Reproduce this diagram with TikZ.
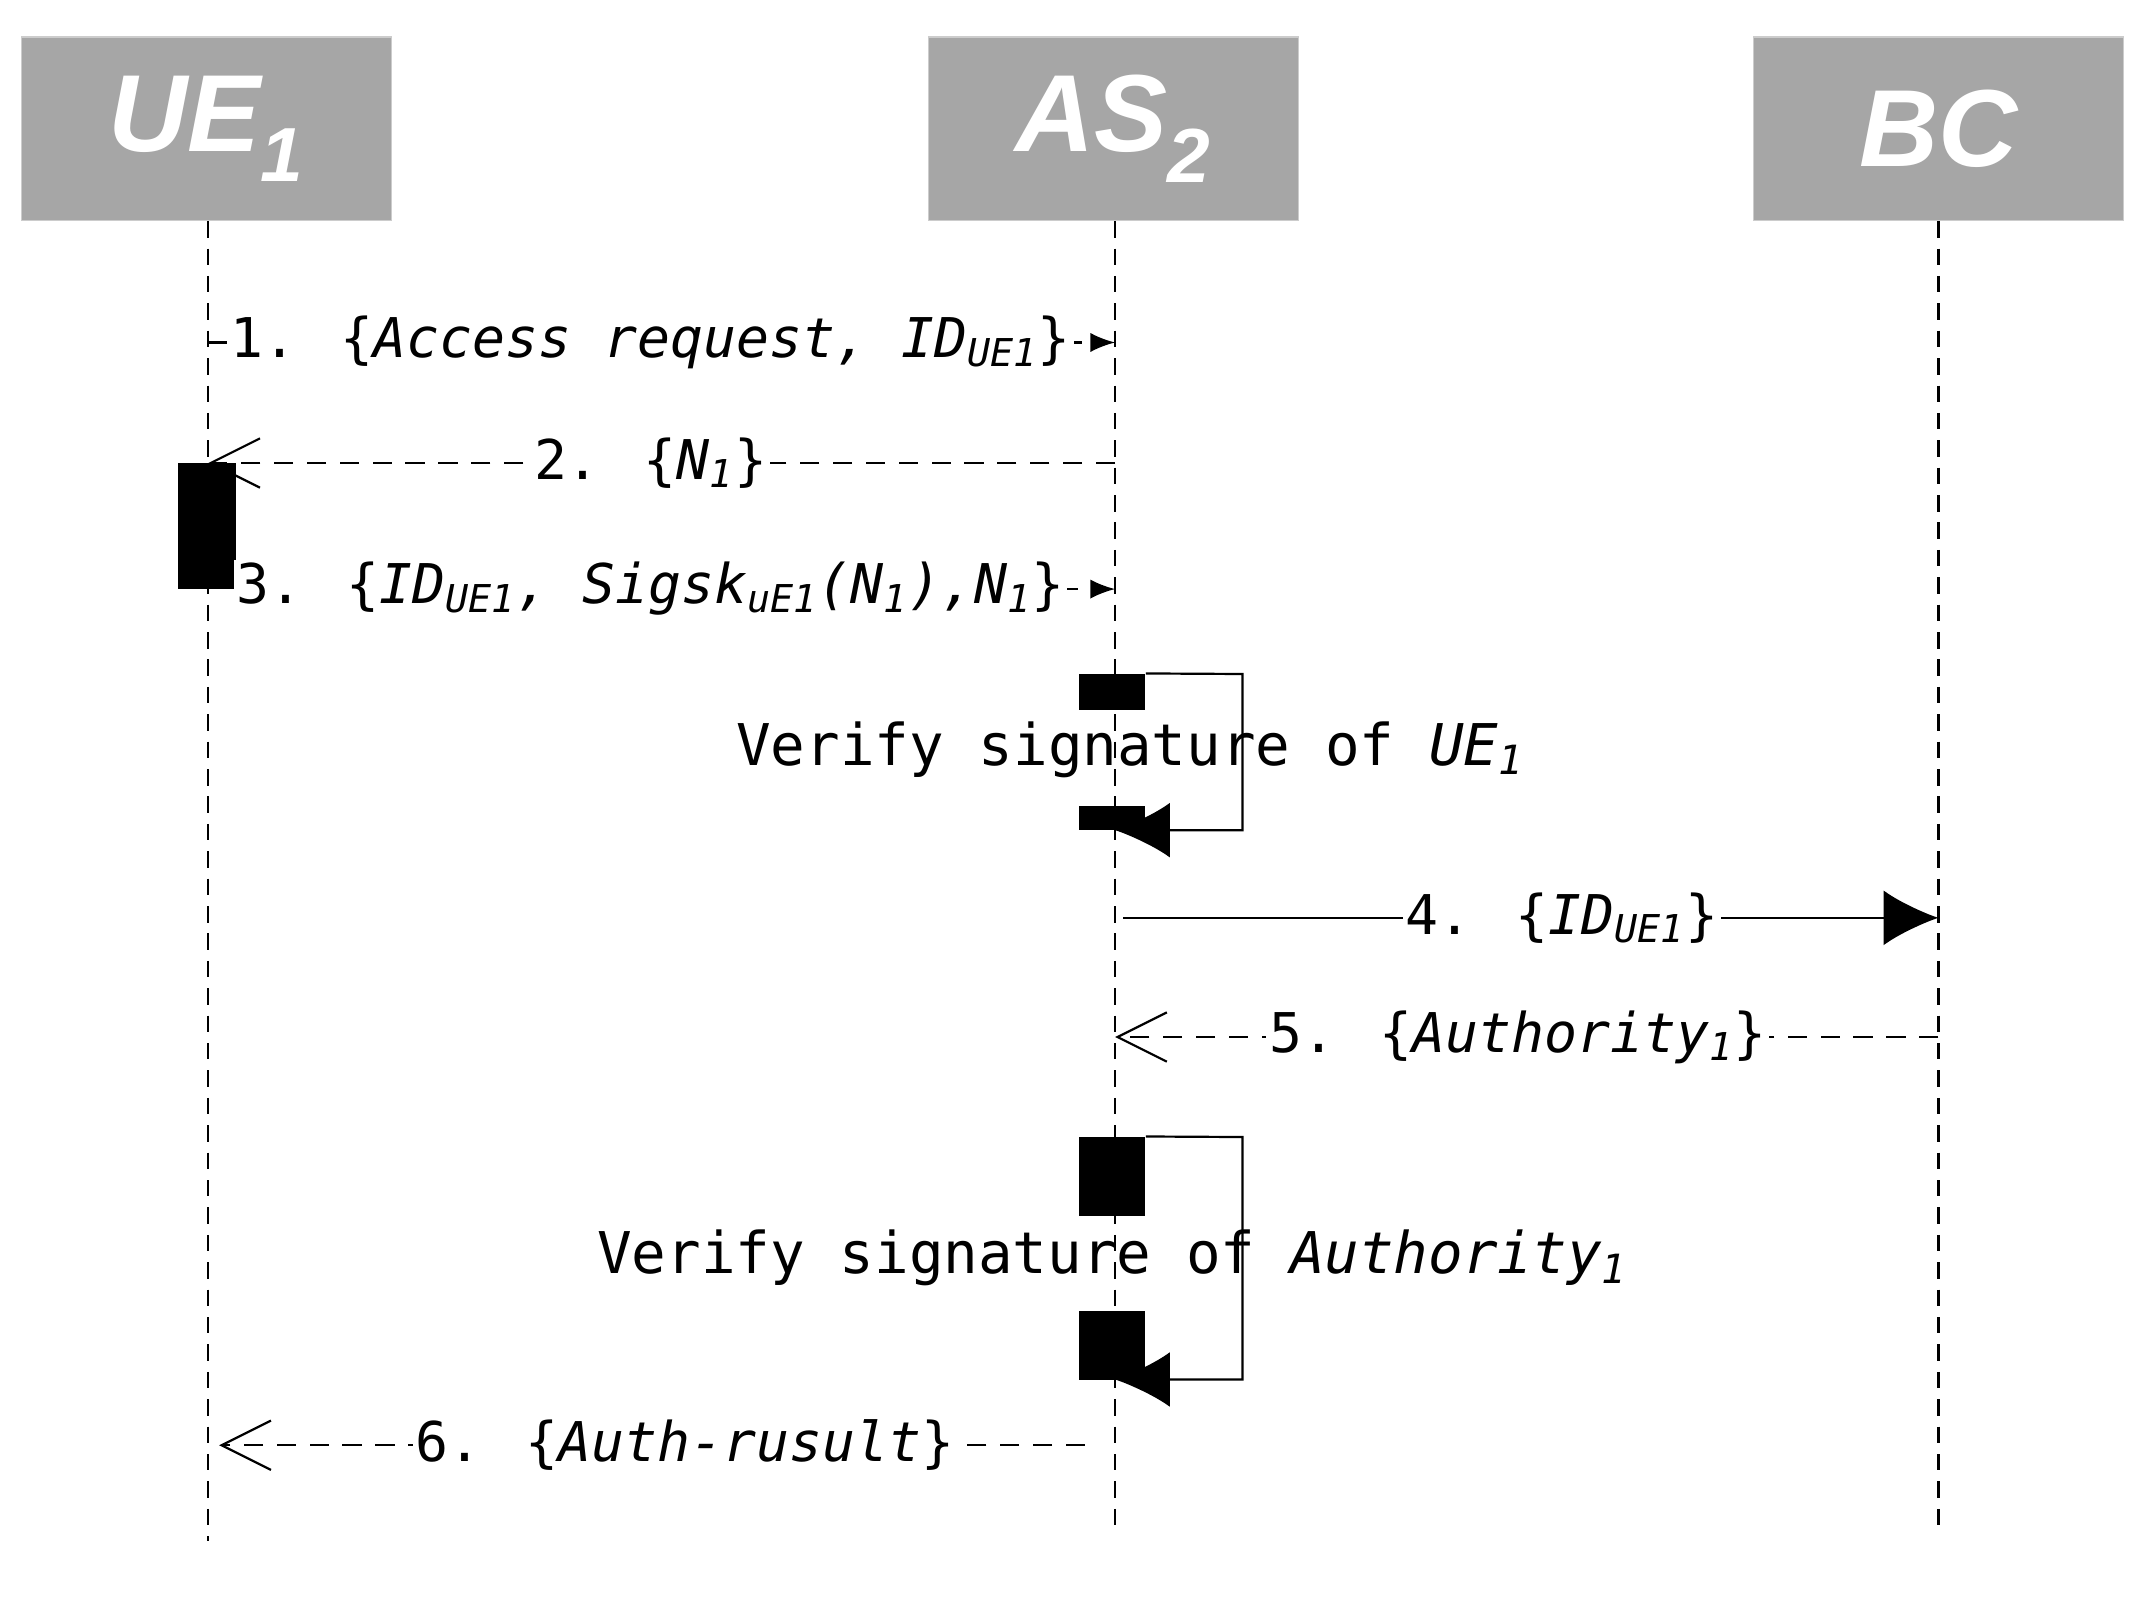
\documentclass[tikz,border=0pt]{standalone}
\usepackage{fontspec}
\setmainfont{DejaVu Sans Mono}
\newfontfamily\hdr{Liberation Sans}
\usetikzlibrary{arrows.meta}
\begin{document}
\begin{tikzpicture}[x=0.5pt,y=-0.5pt,
 hd/.style={fill=black!35,draw=black!20,minimum width=135pt,minimum height=67pt,text=white,font=\hdr\bfseries\itshape\fontsize{40}{40}\selectfont},
 life/.style={line width=0.8pt,dash pattern=on 6pt off 4pt},
 lbl/.style={fill=white,inner sep=1pt,font=\fontsize{20}{24}\selectfont},
 vlbl/.style={inner sep=1pt,font=\fontsize{21}{24}\selectfont},
 msg/.style={line width=0.8pt},
 dmsg/.style={line width=0.8pt,dash pattern=on 7pt off 5pt},
 opentip/.style={-{Straight Barb[length=18pt,width=18pt,line width=0.8pt]}},
 smalltip/.style={-{Latex[length=9pt,width=7pt]}},
 bigtip/.style={-{Latex[length=20pt,width=20pt]}},
 act/.style={fill=black,inner sep=0pt}]
\useasboundingbox (0,0) rectangle (1568,1168);
\node[hd] (ue) at (151,94) {UE\textsubscript{1}};
\node[hd] (as) at (813,94) {AS\textsubscript{2}};
\node[hd] (bc) at (1415,94) {BC};
\coordinate (ueb) at (152,1125); \coordinate (asb) at (814,1118); \coordinate (bcb) at (1415,1118);
\draw[life] (ue.south -| 152,0) -- (ueb);
\draw[life] (as.south -| 814,0) -- (asb);
\draw[life] (bc.south -| 1415,0) -- (bcb);
% msg 1
\coordinate (a1) at (152,250); \coordinate (b1) at (814,250);
\draw[dmsg,smalltip] (a1) -- (b1);
\node[lbl] (l1) at (475,250) {1. \{\textit{Access request, ID\textsubscript{UE1}}\}};
% msg 2
\coordinate (a2) at (814,338); \coordinate (b2) at (152,338);
\draw[dmsg,opentip] (a2) -- (b2);
\node[lbl] (l2) at (475,338) {2. \{\textit{N\textsubscript{1}}\}};
\node[act,minimum width=21pt,minimum height=46pt] (bar1) at (151,384) {};
% msg 3
\coordinate (a3) at (173,430); \coordinate (b3) at (814,430);
\draw[dmsg,smalltip] (a3) -- (b3);
\node[lbl] (l3) at (475,430) {3. \{\textit{ID\textsubscript{UE1}, Sigsk\textsubscript{uE1}(N\textsubscript{1}),N\textsubscript{1}}\}};
% self 1
\node[act,minimum width=24pt,minimum height=13pt] (s1a) at (812,505) {};
\node[act,minimum width=24pt,minimum height=9pt] (s1b) at (812,597) {};
\coordinate (s1c) at (907,492); \coordinate (s1d) at (907,606); \coordinate (s1e) at (814,606);
\draw[msg,bigtip] (s1a.north east) -- (s1c) -- (s1d) -- (s1e);
\node[vlbl] (v1) at (825,547) {Verify signature of \textit{UE\textsubscript{1}}};
% msg 4
\coordinate (a4) at (820,670); \coordinate (b4) at (1415,670);
\draw[msg,bigtip] (a4) -- (b4);
\node[lbl] (l4) at (1140,670) {4. \{\textit{ID\textsubscript{UE1}}\}};
% msg 5
\coordinate (a5) at (1415,757); \coordinate (b5) at (814,757);
\draw[dmsg,opentip] (a5) -- (b5);
\node[lbl] (l5) at (1108,757) {5. \{\textit{Authority\textsubscript{1}}\}};
% self 2
\node[act,minimum width=24pt,minimum height=29pt] (s2a) at (812,859) {};
\node[act,minimum width=24pt,minimum height=25pt] (s2b) at (812,982) {};
\coordinate (s2c) at (907,830); \coordinate (s2d) at (907,1007); \coordinate (s2e) at (814,1007);
\draw[msg,bigtip] (s2a.north east) -- (s2c) -- (s2d) -- (s2e);
\node[vlbl] (v2) at (812,918) {Verify signature of \textit{Authority\textsubscript{1}}};
% msg 6
\coordinate (a6) at (792,1055); \coordinate (b6) at (160,1055);
\draw[dmsg,opentip] (a6) -- (b6);
\node[lbl] (l6) at (500,1055) {6. \{\textit{Auth-rusult}\}};
\end{tikzpicture}
\end{document}
